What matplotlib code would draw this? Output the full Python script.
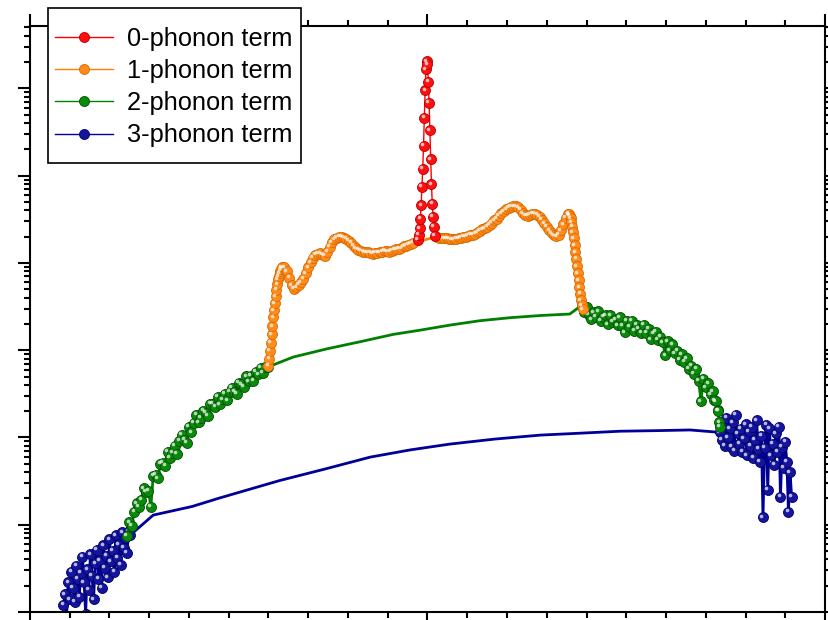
import matplotlib
matplotlib.use("Agg")
import matplotlib.pyplot as plt
from matplotlib.lines import Line2D
from matplotlib.patches import Rectangle
from matplotlib.ticker import MultipleLocator, LogLocator, NullFormatter
from matplotlib.transforms import offset_copy
import numpy as np

plt.rcParams['font.family'] = ['Liberation Sans', 'DejaVu Sans']

# energy transfer (meV) and intensity of each phonon term

# 0-phonon (elastic) peak
red_x = [-1.2, -1.1, -1.0, -0.9, -0.8, -0.7, -0.6, -0.5, -0.4, -0.3, -0.2,
         -0.1, 0.0, 0.1, 0.2, 0.3, 0.4, 0.5, 0.6, 0.7, 0.8, 0.9]
red_y = [1.83e-4, 2.1e-4, 2.5e-4, 3.2e-4, 4.6e-4, 7.5e-4, 1.2e-3, 2.2e-3,
         4.6e-3, 9.5e-3, 1.65e-2, 2.05e-2, 1.9e-2, 1.2e-2, 6.8e-3, 3.3e-3,
         1.55e-3, 8.0e-4, 4.8e-4, 3.4e-4, 2.6e-4, 2.05e-4]

# 1-phonon, energy loss side
orange_left_x = [-20.0, -19.9, -19.8, -19.7, -19.6, -19.5, -19.4, -19.3, -19.2,
                 -19.1, -19.0, -18.9, -18.8, -18.7, -18.6, -18.5, -18.4, -18.3,
                 -18.0, -17.7, -17.4, -17.1, -16.8, -16.5, -16.2, -15.9, -15.6,
                 -15.3, -15.0, -14.7, -14.4, -14.1, -13.8, -13.5, -13.2, -12.9,
                 -12.6, -12.3, -12.0, -11.7, -11.4, -11.1, -10.8, -10.5, -10.2,
                 -9.9, -9.6, -9.3, -9.0, -8.7, -8.4, -8.1, -7.8, -7.5, -7.2,
                 -6.9, -6.6, -6.3, -6.0, -5.7, -5.4, -5.1, -4.8, -4.5, -4.2,
                 -3.9, -3.6, -3.3, -3.0, -2.7, -2.4, -2.1, -1.8]
orange_left_y = [6.58e-6, 7.92e-6, 9.78e-6, 1.21e-5, 1.53e-5, 1.89e-5, 2.39e-5,
                 2.88e-5, 3.46e-5, 4.17e-5, 4.89e-5, 5.72e-5, 6.53e-5, 7.07e-5,
                 7.65e-5, 8.17e-5, 8.62e-5, 8.96e-5,
                 8.89e-5, 8.07e-5, 6.79e-5, 5.57e-5, 5.02e-5, 5.29e-5, 5.65e-5,
                 6.03e-5, 6.61e-5, 7.65e-5, 8.96e-5, 1.02e-4, 1.15e-4, 1.24e-4,
                 1.28e-4, 1.29e-4, 1.24e-4, 1.21e-4, 1.35e-4, 1.54e-4, 1.73e-4,
                 1.87e-4, 1.95e-4, 1.98e-4, 1.98e-4, 1.94e-4, 1.89e-4, 1.80e-4,
                 1.69e-4, 1.58e-4, 1.48e-4, 1.41e-4, 1.38e-4, 1.35e-4, 1.33e-4,
                 1.32e-4, 1.31e-4, 1.27e-4, 1.31e-4, 1.31e-4, 1.32e-4, 1.34e-4,
                 1.38e-4, 1.36e-4, 1.35e-4, 1.39e-4, 1.42e-4, 1.44e-4, 1.46e-4,
                 1.47e-4, 1.55e-4, 1.58e-4, 1.61e-4, 1.65e-4, 1.71e-4]

# 1-phonon, energy gain side
orange_right_x = [1.2, 1.5, 1.8, 2.1, 2.4, 2.7, 3.0, 3.3, 3.6, 3.9, 4.2, 4.5,
                  4.8, 5.1, 5.4, 5.7, 6.0, 6.3, 6.6, 6.9, 7.2, 7.5, 7.8, 8.1,
                  8.4, 8.7, 9.0, 9.3, 9.6, 9.9, 10.2, 10.5, 10.8, 11.1, 11.4,
                  11.7, 12.0, 12.3, 12.6, 12.9, 13.2, 13.5, 13.8, 14.1, 14.4,
                  14.7, 15.0, 15.3, 15.6, 15.9, 16.2, 16.5, 16.8, 17.1, 17.4,
                  17.7, 17.8, 17.9, 18.0, 18.1, 18.2, 18.3, 18.4, 18.5, 18.6,
                  18.7, 18.8, 18.9, 19.0, 19.1, 19.2, 19.3, 19.4, 19.5]
orange_right_y = [2.0e-4, 1.95e-4, 1.92e-4, 1.92e-4, 1.91e-4, 1.89e-4, 1.87e-4,
                  1.87e-4, 1.89e-4, 1.91e-4, 1.93e-4, 1.98e-4, 2.01e-4, 2.05e-4,
                  2.09e-4, 2.12e-4, 2.15e-4, 2.24e-4, 2.33e-4, 2.42e-4, 2.49e-4,
                  2.60e-4, 2.75e-4, 2.89e-4, 3.09e-4, 3.23e-4, 3.48e-4, 3.72e-4,
                  3.92e-4, 4.14e-4, 4.28e-4, 4.42e-4, 4.48e-4, 4.46e-4, 4.36e-4,
                  4.08e-4, 3.72e-4, 3.53e-4, 3.50e-4, 3.57e-4, 3.65e-4, 3.67e-4,
                  3.55e-4, 3.37e-4, 3.11e-4, 2.86e-4, 2.60e-4, 2.38e-4, 2.19e-4,
                  2.07e-4, 2.03e-4, 2.10e-4, 2.38e-4, 2.78e-4, 3.30e-4, 3.67e-4,
                  3.62e-4, 3.48e-4, 3.26e-4, 2.93e-4, 2.60e-4, 2.25e-4, 1.92e-4,
                  1.60e-4, 1.33e-4, 1.11e-4, 9.19e-5, 7.65e-5, 6.36e-5, 5.29e-5,
                  4.40e-5, 3.75e-5, 3.28e-5, 2.95e-5]

# 2-phonon: sampled wings plus the smooth middle section
green_left_x = [-37.8, -37.5, -37.2, -36.9, -36.6, -36.3, -36.0, -35.7, -35.4,
                -35.1, -34.8, -34.5, -34.2, -33.9, -33.6, -33.3, -33.0, -32.7,
                -32.4, -32.1, -31.8, -31.5, -31.2, -30.9, -30.6, -30.3, -30.0,
                -29.7, -29.4, -29.1, -28.8, -28.5, -28.2, -27.9, -27.6, -27.3,
                -27.0, -26.7, -26.4, -26.1, -25.8, -25.5, -25.2, -24.9, -24.6,
                -24.3, -24.0, -23.7, -23.4, -23.1, -22.8, -22.5, -22.2, -21.9,
                -21.6, -21.3, -21.0, -20.7, -20.4, -20.1]
green_left_y = [7.43e-8, 1.07e-7, 9.68e-8, 1.40e-7, 1.77e-7, 1.60e-7, 1.92e-7,
                2.63e-7, 2.37e-7, 2.43e-7, 1.60e-7, 3.66e-7, 3.71e-7, 3.39e-7,
                4.96e-7, 5.09e-7, 4.77e-7, 6.81e-7, 5.81e-7, 6.72e-7, 8.09e-7,
                6.55e-7, 9.20e-7, 1.08e-6, 9.47e-7, 8.75e-7, 1.33e-6, 1.15e-6,
                1.48e-6, 1.83e-6, 1.50e-6, 1.69e-6, 2.03e-6, 1.93e-6, 1.78e-6,
                2.45e-6, 2.45e-6, 2.26e-6, 2.94e-6, 2.41e-6, 2.73e-6, 3.18e-6,
                2.68e-6, 3.36e-6, 3.73e-6, 3.36e-6, 3.18e-6, 4.26e-6, 4.09e-6,
                3.83e-6, 5.05e-6, 4.40e-6, 5.12e-6, 4.43e-6, 5.69e-6, 5.32e-6,
                6.33e-6, 5.47e-6, 6.36e-6, 6.41e-6]
green_mid_x = [-16.9, -12.6, -8.5, -4.3, -0.9, 2.8, 6.6, 10.4, 14.2, 17.9]
green_mid_y = [8.35e-6, 1.04e-5, 1.25e-5, 1.52e-5, 1.70e-5, 1.94e-5, 2.18e-5,
               2.36e-5, 2.50e-5, 2.60e-5]
green_right_x = [19.4, 19.7, 20.0, 20.3, 20.6, 20.9, 21.2, 21.5, 21.8, 22.1,
                 22.4, 22.7, 23.0, 23.3, 23.6, 23.9, 24.2, 24.5, 24.8, 25.1,
                 25.4, 25.7, 26.0, 26.3, 26.6, 26.9, 27.2, 27.5, 27.8, 28.1,
                 28.4, 28.7, 29.0, 29.3, 29.6, 29.9, 30.2, 30.5, 30.8, 31.1,
                 31.4, 31.7, 32.0, 32.3, 32.6, 32.9, 33.2, 33.5, 33.8, 34.1,
                 34.4, 34.7, 35.0, 35.3, 35.6, 35.9, 36.1, 36.3, 36.5, 36.6,
                 36.7, 36.8]
green_right_y = [3.28e-5, 2.73e-5, 3.12e-5, 2.56e-5, 2.27e-5, 2.73e-5, 2.43e-5,
                 2.80e-5, 2.19e-5, 2.43e-5, 2.52e-5, 1.99e-5, 2.52e-5, 2.13e-5,
                 2.25e-5, 1.94e-5, 2.39e-5, 1.90e-5, 1.60e-5, 2.17e-5, 1.87e-5,
                 2.17e-5, 1.68e-5, 1.96e-5, 1.77e-5, 1.59e-5, 1.96e-5, 1.59e-5,
                 1.75e-5, 1.34e-5, 1.56e-5, 1.63e-5, 1.31e-5, 1.43e-5, 1.23e-5,
                 8.78e-6, 1.27e-5, 1.00e-5, 1.17e-5, 9.27e-6, 9.91e-6, 7.75e-6,
                 9.00e-6, 7.41e-6, 8.12e-6, 6.11e-6, 6.67e-6, 5.39e-6, 6.08e-6,
                 4.49e-6, 2.61e-6, 4.73e-6, 3.78e-6, 4.20e-6, 3.14e-6, 3.40e-6,
                 2.68e-6, 2.61e-6, 2.06e-6, 2.01e-6, 1.50e-6, 1.32e-6]

# 3-phonon: sampled wings plus the smooth middle section
blue_left_x = [-45.8, -45.6, -45.4, -45.2, -45.0, -44.8, -44.6, -44.4, -44.2,
               -44.0, -43.8, -43.6, -43.4, -43.2, -43.0, -42.8, -42.6, -42.4,
               -42.2, -42.0, -41.8, -41.6, -41.4, -41.2, -41.0, -40.8, -40.6,
               -40.4, -40.2, -40.0, -39.8, -39.6, -39.4, -39.2, -39.0, -38.8,
               -38.6, -38.4, -38.2, -38.0, -37.8, -37.6, -37.4]
blue_left_y = [1.2e-8, 1.6e-8, 0.9e-8, 2.2e-8, 1.4e-8, 2.9e-8, 1.9e-8, 1.3e-8,
               3.4e-8, 2.4e-8, 1.5e-8, 2.8e-8, 4.3e-8, 2.2e-8, 0.95e-8, 3.1e-8,
               1.8e-8, 4.6e-8, 2.6e-8, 1.4e-8, 3.6e-8, 5.2e-8, 2.4e-8, 3.9e-8,
               1.9e-8, 5.8e-8, 3.2e-8, 4.4e-8, 2.5e-8, 6.8e-8, 3.8e-8, 5.0e-8,
               2.9e-8, 7.6e-8, 4.2e-8, 6.0e-8, 3.5e-8, 8.2e-8, 5.4e-8, 7.0e-8,
               4.8e-8, 8.4e-8, 7.6e-8]
blue_mid_x = [-34.5, -29.6, -26.2, -18.6, -12.9, -7.2, -2.2, 2.8, 8.5, 14.2,
              19.2, 24.2, 29.2, 33.0, 36.5]
blue_mid_y = [1.29e-7, 1.62e-7, 2.02e-7, 3.21e-7, 4.35e-7, 5.96e-7, 7.2e-7,
              8.4e-7, 9.6e-7, 1.065e-6, 1.12e-6, 1.18e-6, 1.2e-6, 1.22e-6,
              1.15e-6]
blue_right_x = [36.8, 37.0, 37.2, 37.4, 37.6, 37.8, 38.0, 38.2, 38.4, 38.6,
                38.8, 39.0, 39.2, 39.4, 39.6, 39.8, 40.0, 40.2, 40.4, 40.6,
                40.8, 41.0, 41.2, 41.4, 41.6, 41.8, 42.0, 42.2, 42.4, 42.6,
                42.8, 43.0, 43.2, 43.4, 43.6, 43.8, 44.0, 44.2, 44.4, 44.6,
                44.8, 45.0, 45.2, 45.4, 45.6, 45.8]
blue_right_y = [1.15e-6, 9.35e-7, 1.39e-6, 7.98e-7, 1.67e-6, 1.01e-6, 1.28e-6,
                7.77e-7, 1.50e-6, 6.99e-7, 1.81e-6, 1.12e-6, 8.4e-7, 1.25e-6,
                6.81e-7, 9.84e-7, 1.42e-6, 6.28e-7, 1.18e-6, 7.98e-7, 1.32e-6,
                5.81e-7, 9.35e-7, 1.58e-6, 7.37e-7, 5.23e-7, 1.04e-6, 1.22e-7,
                7.58e-7, 1.39e-6, 2.50e-7, 1.28e-6, 6.28e-7, 8.4e-7, 4.83e-7,
                1.12e-6, 6.81e-7, 1.32e-6, 2.08e-7, 7.77e-7, 4.47e-7, 8.88e-7,
                5.23e-7, 1.40e-7, 4.01e-7, 2.1e-7]

labels = ['0-phonon term', '1-phonon term', '2-phonon term', '3-phonon term']
line_colors = ['#ff0000', '#ff8000', '#008000', '#000099']
face_colors = ['#ff1010', '#ff8c1a', '#0a8a0a', '#14149e']
edge_colors = ['#b00000', '#d86a00', '#005000', '#000066']

fig = plt.figure(figsize=(8.29, 6.2), dpi=100)
ax = fig.add_axes([30 / 829, 8 / 620, 795 / 829, 586 / 620])
ax.set_yscale('log')

# small white spot drawn up-left of each marker to look like a shaded ball
shine = offset_copy(ax.transData, fig=fig, x=-1.6, y=1.6, units='dots')
MS = 7.2


def draw_term(parts, i, lw, z):
    xs, ys, marked = [], [], []
    for px, py, with_markers in parts:
        xs += list(px)
        ys += list(py)
        marked += [with_markers] * len(px)
    xs, ys, marked = np.array(xs), np.array(ys), np.array(marked)
    ax.plot(xs, ys, '-', color=line_colors[i], lw=lw, marker='o', ms=MS,
            mfc=face_colors[i], mec=edge_colors[i], mew=0.6,
            markevery=list(np.flatnonzero(marked)), zorder=z)
    ax.plot(xs[marked], ys[marked], 'o', ms=2.6, color='white', alpha=0.7,
            mew=0, transform=shine, zorder=z)


draw_term([(blue_left_x, blue_left_y, True), (blue_mid_x, blue_mid_y, False),
           (blue_right_x, blue_right_y, True)], 3, 2.0, 2)
draw_term([(green_left_x, green_left_y, True), (green_mid_x, green_mid_y, False),
           (green_right_x, green_right_y, True)], 2, 2.0, 3)
draw_term([(orange_left_x, orange_left_y, True),
           (orange_right_x, orange_right_y, True)], 1, 2.0, 4)
draw_term([(red_x, red_y, True)], 0, 1.0, 5)

ax.set_xlim(-50, 50)
ax.set_ylim(1e-8, 5.2e-2)
ax.xaxis.set_major_locator(MultipleLocator(50))
ax.xaxis.set_minor_locator(MultipleLocator(5))
ax.yaxis.set_major_locator(LogLocator(base=10, numticks=20))
ax.yaxis.set_minor_locator(LogLocator(base=10, subs=np.arange(2, 10), numticks=20))
ax.xaxis.set_major_formatter(NullFormatter())
ax.yaxis.set_major_formatter(NullFormatter())
ax.yaxis.set_minor_formatter(NullFormatter())
ax.tick_params(which='both', direction='out', top=True, right=True,
               labelbottom=False, labelleft=False, width=1.5, color='black')
ax.tick_params(which='major', length=8.5)
ax.tick_params(which='minor', length=4.5)
for s in ax.spines.values():
    s.set_linewidth(1.5)

# legend box, drawn separately so its padding can differ from the row layout
ax.add_patch(Rectangle((48 / 829, 1 - 163 / 620), 253 / 829, 155 / 620,
                       transform=fig.transFigure, facecolor='white',
                       edgecolor='black', lw=1.2, clip_on=False, zorder=9))
handles = [Line2D([], [], color=line_colors[i], lw=1.0, marker='o', ms=MS,
                  mfc=face_colors[i], mec=edge_colors[i], mew=0.6)
           for i in range(4)]
leg = ax.legend(handles, labels, loc='upper left',
                bbox_to_anchor=(55 / 829, 1 - 27 / 620),
                bbox_transform=fig.transFigure, fontsize=18.3, frameon=False,
                borderpad=0, borderaxespad=0, handlelength=2.3,
                handletextpad=0.55, labelspacing=0.32)
leg.set_zorder(10)

fig.savefig('out.png', dpi=100)
